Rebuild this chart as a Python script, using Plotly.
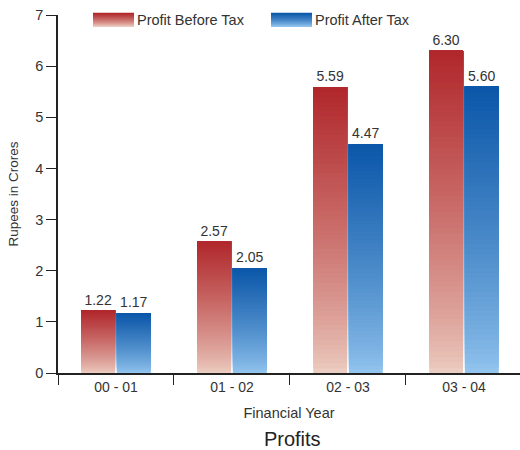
import plotly.graph_objects as go

# Data
years = ["00 - 01", "01 - 02", "02 - 03", "03 - 04"]
profit_before_tax = [1.22, 2.57, 5.59, 6.30]
profit_after_tax = [1.17, 2.05, 4.47, 5.60]
y_ticks = [0, 1, 2, 3, 4, 5, 6, 7]

# gradient end colours (top, bottom) for each series
RED_TOP, RED_BOTTOM = (176, 38, 42), (236, 204, 192)
BLUE_TOP, BLUE_BOTTOM = (10, 86, 168), (146, 196, 238)

STEPS = 60
FONT = "Liberation Sans, Arial"


def mix(c_top, c_bottom, t):
    """t=0 -> bottom colour, t=1 -> top colour"""
    t = t ** 0.8
    r, g, b = (round(cb + (ct - cb) * t) for ct, cb in zip(c_top, c_bottom))
    return f"rgb({r},{g},{b})"


fig = go.Figure()


def gradient_bars(values, group, c_top, c_bottom):
    # overlapping layers, each starting a bit higher, so the bar fades
    # from the bottom colour up to the top colour without seams
    for i in range(STEPS):
        frac = i / STEPS
        fig.add_trace(go.Bar(
            x=years,
            y=[v * (1 - frac) for v in values],
            base=[v * frac for v in values],
            offsetgroup=group,
            marker=dict(color=mix(c_top, c_bottom, frac), line=dict(width=0)),
            showlegend=False,
            hoverinfo="skip",
        ))
    # value labels on top of the bars
    fig.add_trace(go.Bar(
        x=years,
        y=values,
        offsetgroup=group,
        marker=dict(color="rgba(0,0,0,0)", line=dict(width=0)),
        text=[f"{v:.2f}" for v in values],
        textposition="outside",
        textfont=dict(family=FONT, size=14, color="#333333"),
        cliponaxis=False,
        showlegend=False,
        hoverinfo="skip",
    ))


gradient_bars(profit_before_tax, "pbt", RED_TOP, RED_BOTTOM)
gradient_bars(profit_after_tax, "pat", BLUE_TOP, BLUE_BOTTOM)

# legend: gradient swatches drawn as stacked thin rectangles
legend_items = [
    ("Profit Before Tax", RED_TOP, RED_BOTTOM, 93, 134),
    ("Profit After Tax", BLUE_TOP, BLUE_BOTTOM, 271, 312),
]
W, H = 520, 450
sw_top, sw_bottom = 13, 27
n_sw = 14
for label, c_top, c_bottom, x0, x1 in legend_items:
    for k in range(n_sw):
        ya = sw_top + (sw_bottom - sw_top) * k / n_sw
        yb = sw_top + (sw_bottom - sw_top) * (k + 1) / n_sw
        fig.add_shape(
            type="rect", xref="paper", yref="paper",
            x0=(x0 - 58) / 462, x1=(x1 - 58) / 462,
            y0=(373 - yb) / 358, y1=(373 - ya) / 358 + 0.001,
            fillcolor=mix(c_top, c_bottom, 1 - k / (n_sw - 1)),
            line=dict(width=0), layer="above",
        )
    fig.add_annotation(
        text=label, xref="paper", yref="paper",
        x=(x1 + 1 - 58) / 462, y=(373 - 20) / 358,
        xanchor="left", yanchor="middle", showarrow=False,
        font=dict(family=FONT, size=14.5, color="#333333"),
    )

fig.update_layout(
    width=W, height=H,
    margin=dict(l=58, r=0, t=15, b=77),
    paper_bgcolor="white",
    plot_bgcolor="white",
    barmode="group",
    bargap=0.385,
    bargroupgap=0.05,
    showlegend=False,
    font=dict(family=FONT, color="#333333"),
    title=dict(
        text="Profits", x=0.562, xanchor="center", y=0.008, yanchor="bottom",
        font=dict(size=20, color="#222222"),
    ),
)

fig.update_xaxes(
    range=[-0.5, 3.483],
    showline=True, linecolor="#222222", linewidth=1.5,
    ticks="outside", tickson="boundaries", ticklen=10, tickcolor="#222222", tickwidth=1.2,
    tickfont=dict(size=14, color="#333333"),
    showgrid=False, zeroline=False,
    title=dict(text="Financial Year", font=dict(size=14.5, color="#333333"), standoff=14),
)
fig.update_yaxes(
    range=[0, 7], tickvals=y_ticks,
    showline=True, linecolor="#222222", linewidth=1.5,
    ticks="outside", ticklen=10, tickcolor="#222222", tickwidth=1.2,
    tickfont=dict(size=14.5, color="#333333"),
    showgrid=False, zeroline=False,
    title=dict(text="Rupees in Crores", font=dict(size=13.5, color="#333333"), standoff=14),
)

fig.write_html("out.html")
